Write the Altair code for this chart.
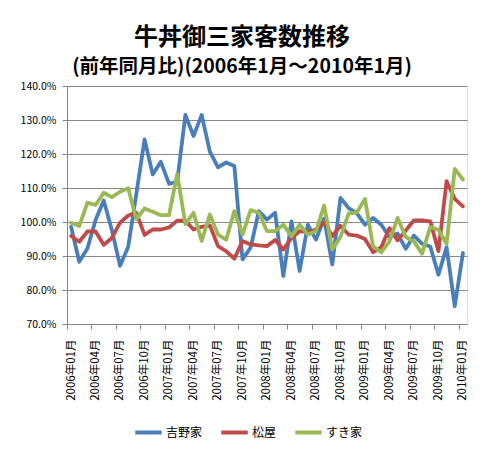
import altair as alt
import pandas as pd

series_names = ["吉野家", "松屋", "すき家"]
series_colors = ["#4A7EBB", "#BE4B48", "#98B954"]

months = [f"{y}年{m:02d}月" for y in range(2006, 2011) for m in range(1, 13)][:49]

yoshinoya = [98.6, 88.3, 92.2, 100.6, 106.3, 97.6, 87.1, 92.7, 108.4, 124.3,
             114.0, 117.7, 111.2, 111.9, 131.5, 125.3, 131.5, 120.7, 116.1, 117.5,
             116.5, 89.0, 92.5, 103.2, 100.7, 102.7, 84.1, 100.2, 85.6, 99.2,
             94.8, 101.0, 87.5, 107.1, 104.1, 102.6, 99.2, 101.2, 99.2, 95.6,
             96.6, 92.1, 96.0, 93.6, 92.8, 84.5, 92.6, 75.2, 90.9]
matsuya = [95.9, 94.2, 97.2, 97.2, 93.3, 95.3, 99.8, 101.9, 102.7, 96.2,
           97.8, 97.8, 98.4, 100.4, 100.4, 97.8, 98.6, 99.0, 92.9, 91.4,
           89.2, 94.4, 93.4, 93.1, 92.9, 94.7, 91.9, 95.3, 97.3, 97.0,
           97.8, 99.9, 95.8, 98.9, 96.3, 96.0, 95.0, 91.1, 92.6, 98.2,
           94.6, 97.5, 100.5, 100.5, 100.2, 91.4, 112.0, 106.8, 104.6]
sukiya = [99.8, 98.8, 105.7, 105.0, 108.6, 107.3, 108.9, 109.9, 100.8, 104.0,
          103.0, 102.0, 102.0, 114.1, 99.4, 102.7, 94.4, 102.2, 96.3, 94.8,
          103.2, 96.3, 103.5, 102.7, 97.3, 97.3, 99.2, 95.8, 99.2, 96.3,
          97.3, 104.8, 91.9, 95.6, 102.5, 102.8, 106.8, 92.8, 91.1, 94.3,
          101.2, 95.6, 94.3, 90.7, 98.5, 97.7, 93.6, 115.6, 112.5]

rows = []
for name, vals in zip(series_names, [yoshinoya, matsuya, sukiya]):
    for i, v in enumerate(vals):
        rows.append({"idx": i, "month": months[i], "series": name, "value": v})
df = pd.DataFrame(rows)

FONT = "Noto Sans CJK JP"
GRID = "#868686"

month_js = "[" + ",".join(f"'{m}'" for m in months) + "]"

x_enc = alt.X(
    "idx:Q",
    scale=alt.Scale(domain=[-0.5, 48.5], nice=False, zero=False),
    axis=alt.Axis(
        title=None,
        values=[-0.5 + 3 * k for k in range(17)],
        labelExpr=f"{month_js}[round(datum.value + 0.5)]",
        labelOffset=4,
        labelAngle=-90,
        labelFontSize=11.5,
        labelFont=FONT,
        labelColor="#000000",
        labelPadding=10,
        grid=False,
        tickSize=5,
        tickColor=GRID,
        domainColor=GRID,
        labelFlush=False,
        labelOverlap=False,
    ),
)
y_enc = alt.Y(
    "value:Q",
    scale=alt.Scale(domain=[70, 140], nice=False, zero=False),
    axis=alt.Axis(
        title=None,
        values=[70, 80, 90, 100, 110, 120, 130, 140],
        labelExpr="format(datum.value / 100, '.1%')",
        labelFontSize=10.5,
        labelFont=FONT,
        labelColor="#000000",
        labelPadding=6,
        grid=True,
        gridColor=GRID,
        gridOpacity=1,
        tickSize=5,
        tickColor=GRID,
        domainColor=GRID,
    ),
)
color_enc = alt.Color(
    "series:N",
    scale=alt.Scale(domain=series_names, range=series_colors),
    legend=alt.Legend(
        title=None,
        orient="none",
        legendX=66,
        legendY=331,
        direction="horizontal",
        gridAlign="none",
        symbolType="stroke",
        symbolSize=700,
        symbolStrokeWidth=4,
        labelFontSize=12,
        labelFont=FONT,
        labelColor="#000000",
        labelOffset=2,
        labelLimit=200,
        columnPadding=10,
    ),
)

layers = []
for name in series_names:
    layers.append(
        alt.Chart(df)
        .transform_filter(alt.datum.series == name)
        .mark_line(strokeWidth=3.8, strokeJoin="round", strokeCap="round")
        .encode(x=x_enc, y=y_enc, color=color_enc)
    )

chart = (
    alt.layer(*layers)
    .properties(
        width=400,
        height=238,
        padding={"left": 59, "top": 78, "right": 8, "bottom": 121},
        autosize=alt.AutoSizeParams(type="none"),
        title=alt.TitleParams(
            text="牛丼御三家客数推移",
            subtitle="(前年同月比)(2006年1月～2010年1月)",
            font=FONT,
            subtitleFont=FONT,
            fontSize=24,
            subtitleFontSize=19.5,
            fontWeight="bold",
            subtitleFontWeight="bold",
            color="#000000",
            subtitleColor="#000000",
            anchor="middle",
            dx=-25,
            offset=5,
            subtitlePadding=8,
        ),
    )
    .configure_view(stroke=None)
    .configure(background="#ffffff")
)

chart.save("out.html", embed_options={"renderer": "svg", "actions": False})
